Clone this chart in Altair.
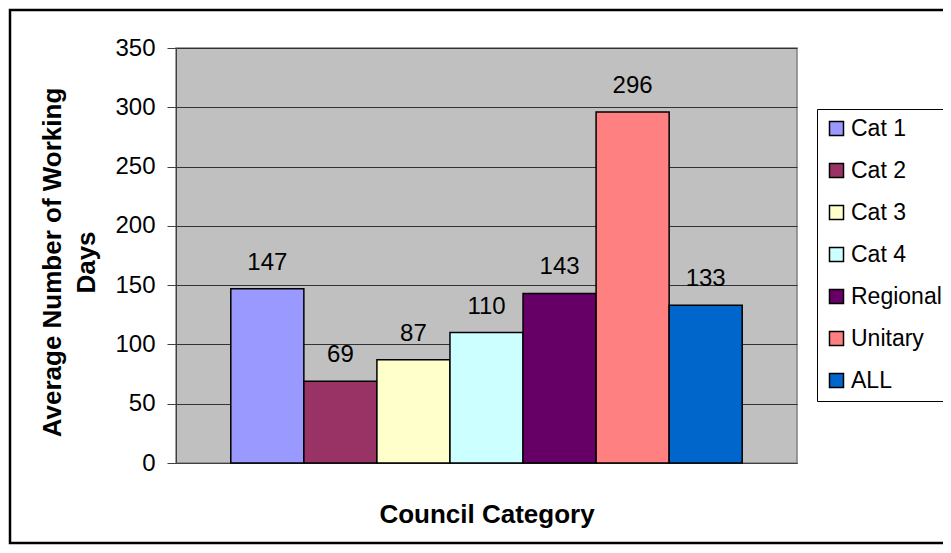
import altair as alt
import pandas as pd

categories = ["Cat 1", "Cat 2", "Cat 3", "Cat 4", "Regional", "Unitary", "ALL"]
values = [147, 69, 87, 110, 143, 296, 133]
colors = ["#9999FF", "#993366", "#FFFFCC", "#CCFFFF", "#660066", "#FF8080", "#0066CC"]
y_ticks = [0, 50, 100, 150, 200, 250, 300, 350]

df = pd.DataFrame({"category": categories, "value": values})

FONT = "Liberation Sans"
W, H = 621, 415
PAD = {"left": 168, "top": 40, "right": 146, "bottom": 82}

x_enc = alt.X(
    "category:N",
    sort=categories,
    scale=alt.Scale(paddingInner=0, paddingOuter=0.75),
    axis=alt.Axis(
        labels=False, ticks=False, domain=True, domainColor="#404040",
        title="Council Category", titleFontSize=26, titleFontWeight="bold",
        titleFont=FONT, titleColor="black", titleBaseline="middle",
        titleY=51, grid=False,
    ),
)
y_enc = alt.Y(
    "value:Q",
    scale=alt.Scale(domain=[0, 350], nice=False),
    axis=alt.Axis(
        values=y_ticks, tickSize=9, tickColor="#404040", labelPadding=12,
        labelFontSize=24, labelFont=FONT, labelColor="black",
        domainColor="#404040", gridColor="#333333", gridWidth=1,
        title=["Average Number of Working", "Days"], titleFontSize=26,
        titleFontWeight="bold", titleFont=FONT, titleColor="black",
        titleLineHeight=34, titleAngle=-90, titleAlign="center",
        titleBaseline="middle", titleX=-124, titleY=214,
    ),
)

bars = alt.Chart(df).mark_bar(stroke="black", strokeWidth=1.5).encode(
    x=x_enc,
    y=y_enc,
    color=alt.Color(
        "category:N",
        sort=categories,
        scale=alt.Scale(domain=categories, range=colors),
        legend=alt.Legend(
            title=None, orient="none", legendX=641, legendY=61,
            padding=8, strokeColor="black", fillColor="white",
            symbolType="square", symbolSize=196, symbolStrokeColor="black",
            symbolStrokeWidth=1.5, labelFontSize=23, labelFont=FONT,
            labelColor="black", rowPadding=18, labelOffset=3,
        ),
    ),
)

labels = alt.Chart(df).mark_text(
    baseline="alphabetic", dy=-19, fontSize=24, font=FONT, color="black"
).encode(
    x=alt.X("category:N", sort=categories),
    y=alt.Y("value:Q"),
    text=alt.Text("value:Q"),
)

frame = alt.Chart(pd.DataFrame({"f": [0]})).mark_rect(
    fill=None, stroke="black", strokeWidth=2.5
).encode(
    x=alt.value(-166), x2=alt.value(W + 170),
    y=alt.value(-38), y2=alt.value(H + 80),
)

chart = alt.layer(frame, bars, labels).properties(
    width=W, height=H,
    autosize=alt.AutoSizeParams(type="none"),
    padding=PAD,
    background="white",
).configure(font=FONT).configure_view(
    fill="#C0C0C0", stroke="#808080", strokeWidth=1.5
)

chart.save("out.html", embed_options={"renderer": "svg", "actions": False})
